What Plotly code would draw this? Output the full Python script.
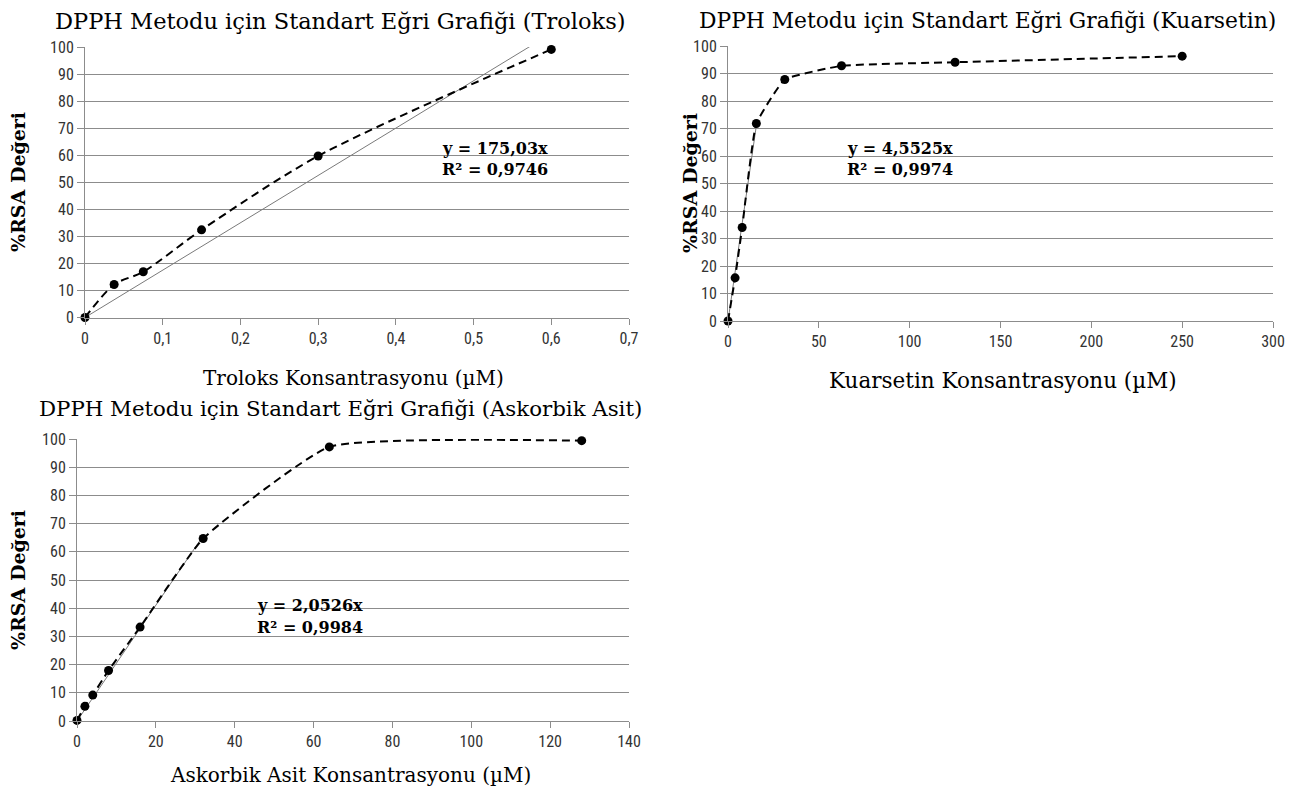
import plotly.graph_objects as go

# page is drawn with the browser's default 8px body margin, so the figure is
# sized to the remaining area and pixel positions are measured on screen
W, H = 1294, 791
OFF = 8
FW, FH = W - OFF, H - OFF

# ---------------- data ----------------
trolox_x = [0, 0.0375, 0.075, 0.15, 0.3, 0.6]
trolox_y = [0, 12.2, 16.9, 32.4, 59.7, 99.1]
trolox_slope = 175.03
trolox_fit_x = [0, 0.6]

quer_x = [0, 3.9, 7.8, 15.6, 31.25, 62.5, 125, 250]
quer_y = [0, 15.7, 34.0, 71.8, 87.8, 92.8, 94.1, 96.3]
quer_slope = 4.5525
quer_fit_x = [0, 15.6]

asc_x = [0, 2, 4, 8, 16, 32, 64, 128]
asc_y = [0.2, 5.2, 9.2, 17.9, 33.3, 64.7, 97.2, 99.4]
asc_slope = 2.0526
asc_fit_x = [0, 32]

titles = ["DPPH Metodu için Standart Eğri Grafiği (Troloks)",
          "DPPH Metodu için Standart Eğri Grafiği (Kuarsetin)",
          "DPPH Metodu için Standart Eğri Grafiği (Askorbik Asit)"]
xtitles = ["Troloks Konsantrasyonu (µM)",
           "Kuarsetin Konsantrasyonu (µM)",
           "Askorbik Asit Konsantrasyonu (µM)"]
ytitle = "%RSA Değeri"
eqs = [("y = 175,03x", "R² = 0,9746"),
       ("y = 4,5525x", "R² = 0,9974"),
       ("y = 2,0526x", "R² = 0,9984")]

# ---------------- helpers ----------------
def px(x):
    return (x - OFF) / FW

def py(y):
    return 1 - (y - OFF) / FH

SERIF = "DejaVu Serif"
SANS = "Liberation Sans Narrow, Roboto Condensed, Liberation Sans, sans-serif"
GRID = "#8c8c8c"

fig = go.Figure()

panels = [
    dict(xs="x", ys="y", xd=(85, 629), yd=(47, 317.5), xr=[0, 0.7], dx=0.1,
         data=(trolox_x, trolox_y, trolox_slope, trolox_fit_x), smooth=0.8),
    dict(xs="x2", ys="y2", xd=(728, 1273), yd=(46, 321), xr=[0, 300], dx=50,
         data=(quer_x, quer_y, quer_slope, quer_fit_x), smooth=0.35),
    dict(xs="x3", ys="y3", xd=(77, 629), yd=(439, 721), xr=[0, 140], dx=20,
         data=(asc_x, asc_y, asc_slope, asc_fit_x), smooth=0.42),
]

for i, p in enumerate(panels):
    xv, yv, slope, fx = p["data"]
    fy = [slope * v for v in fx]
    fig.add_trace(go.Scatter(x=fx, y=fy, mode="lines",
                             line=dict(color="#7a7a7a", width=1),
                             xaxis=p["xs"], yaxis=p["ys"], showlegend=False,
                             hoverinfo="skip"))
    fig.add_trace(go.Scatter(x=xv, y=yv, mode="lines+markers",
                             line=dict(color="black", width=2, dash="8px,5px",
                                       shape="spline", smoothing=p["smooth"]),
                             marker=dict(color="black", size=9),
                             cliponaxis=False,
                             xaxis=p["xs"], yaxis=p["ys"], showlegend=False))

layout = dict(template="none", width=FW, height=FH,
              margin=dict(l=0, r=0, t=0, b=0, autoexpand=False),
              paper_bgcolor="white", plot_bgcolor="white", showlegend=False)

for i, p in enumerate(panels):
    suffix = "" if i == 0 else str(i + 1)
    if p["xr"][1] < 1:
        tickvals = [round(k * 0.1, 1) for k in range(8)]
        ticktext = [("%g" % v).replace(".", ",") for v in tickvals]
    else:
        tickvals = list(range(0, p["xr"][1] + 1, p["dx"]))
        ticktext = [str(v) for v in tickvals]
    layout["xaxis" + suffix] = dict(
        domain=[px(p["xd"][0]), px(p["xd"][1])], range=p["xr"], automargin=False,
        anchor="y" + suffix, tickvals=tickvals, ticktext=ticktext,
        showgrid=False, zeroline=False, showline=True, linecolor=GRID, linewidth=1,
        ticks="outside", ticklen=6, tickcolor=GRID, tickwidth=1,
        tickfont=dict(family=SANS, size=16, color="#333333"))
    layout["yaxis" + suffix] = dict(
        domain=[py(p["yd"][1]), py(p["yd"][0])], range=[0, 100], automargin=False,
        anchor="x" + suffix, tickvals=list(range(0, 101, 10)),
        showgrid=True, gridcolor=GRID, gridwidth=1, zeroline=False,
        showline=True, linecolor=GRID, linewidth=1,
        ticks="outside", ticklen=7, tickcolor=GRID, tickwidth=1,
        tickfont=dict(family=SANS, size=16, color="#333333"))

fig.update_layout(**layout)

anns = []
# titles
title_pos = [(340, 21, 22.5), (988, 21, 21.8), (340, 408, 21.3)]
for t, (x, y, s) in zip(titles, title_pos):
    anns.append(dict(text=t, x=px(x), y=py(y), xref="paper", yref="paper",
                     xanchor="center", yanchor="middle", showarrow=False,
                     font=dict(family=SERIF, size=s, color="black")))
# x axis titles
xt_pos = [(353, 378, 20), (1003, 380, 21.5), (350, 775, 20)]
for t, (x, y, s) in zip(xtitles, xt_pos):
    anns.append(dict(text=t, x=px(x), y=py(y), xref="paper", yref="paper",
                     xanchor="center", yanchor="middle", showarrow=False,
                     font=dict(family=SERIF, size=s, color="black")))
# y axis titles
yt_pos = [(18, 182), (690, 183), (18, 580)]
for (x, y) in yt_pos:
    anns.append(dict(text="<b>" + ytitle + "</b>", x=px(x), y=py(y), xref="paper",
                     yref="paper", xanchor="center", yanchor="middle",
                     textangle=-90, showarrow=False,
                     font=dict(family=SERIF, size=19, color="black")))
# equations
eq_pos = [(440, 148), (845, 148), (255, 605)]
for (l1, l2), (x, y) in zip(eqs, eq_pos):
    for k, t in enumerate((l1, l2)):
        anns.append(dict(text="<b>" + t + "</b>", x=px(x), y=py(y + 22 * k),
                         xref="paper", yref="paper", xanchor="left",
                         yanchor="middle", showarrow=False,
                         font=dict(family=SERIF, size=16, color="black")))

fig.update_layout(annotations=anns)
fig.write_html("out.html")
